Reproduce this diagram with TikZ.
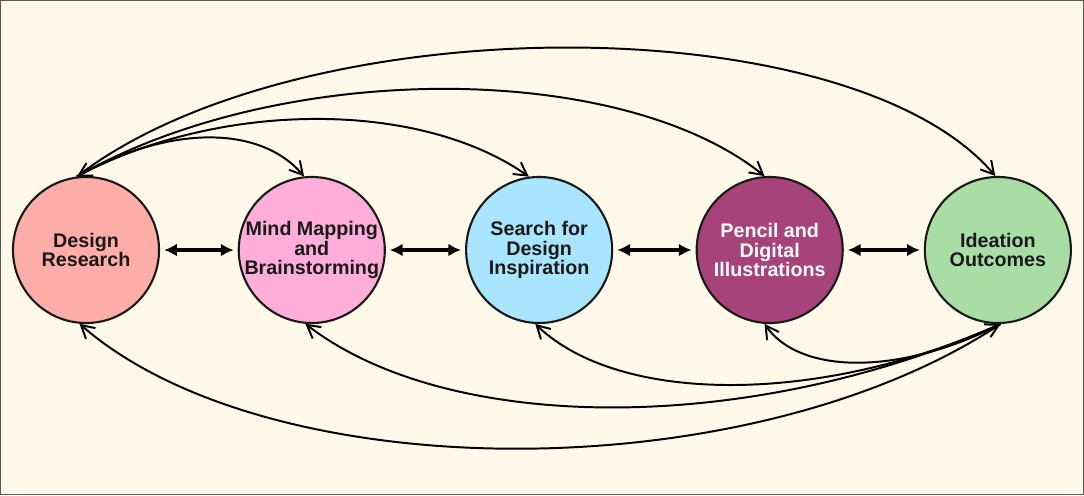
\documentclass[tikz,border=0pt]{standalone}
\usepackage{fontspec}
\setmainfont{Liberation Sans}
\usetikzlibrary{arrows.meta,positioning}
\definecolor{bgcream}{HTML}{FEF9E9}
\definecolor{framegray}{HTML}{5A5A55}
\definecolor{drpink}{HTML}{FFADA8}
\definecolor{mmpink}{HTML}{FFAED9}
\definecolor{sdblue}{HTML}{A9E5FF}
\definecolor{pdplum}{HTML}{A6437A}
\definecolor{iogreen}{HTML}{A8DDA6}
\tikzset{
  stage/.style={circle,draw=black!90,line width=1.5pt,minimum size=3.65cm,inner sep=0pt,
    align=center,font=\fontsize{14}{14}\selectfont\bfseries,text=black!90},
  link/.style={line width=1.4pt,-{Straight Barb[length=3.2mm,width=3.6mm]}},
  twolink/.style={line width=1.4pt,{Straight Barb[length=3.2mm,width=3.6mm]}-{Straight Barb[length=3.2mm,width=3.6mm]}},
  swap/.style={line width=2.2pt,{Latex[length=3.2mm,width=3.2mm]}-{Latex[length=3.2mm,width=3.2mm]},
    shorten <=1mm,shorten >=1mm},
}

\begin{document}
\begin{tikzpicture}[x=0.025cm,y=-0.025cm]
% Background and frame
\useasboundingbox (0,0) rectangle (1084,495);
\fill[bgcream] (0,0) rectangle (1084,495);
\draw[framegray,line width=1pt] (0.6,0.6) rectangle (1083.4,494.4);

% Stages
\node[stage,fill=drpink] (dr) at (86,250) {Design\\Research};
\node[stage,fill=mmpink,right=1.94cm of dr] (mm) {Mind Mapping\\and\\Brainstorming};
\node[stage,fill=sdblue,right=1.98cm of mm] (sd) {Search for\\Design\\Inspiration};
\node[stage,fill=pdplum,text=white!95!pink,right=2.06cm of sd] (pd) {Pencil and\\Digital\\Illustrations};
\node[stage,fill=iogreen,right=2cm of pd] (io) {Ideation\\Outcomes};

% Neighbour links
\draw[swap] (dr) -- (mm);
\draw[swap] (mm) -- (sd);
\draw[swap] (sd) -- (pd);
\draw[swap] (pd) -- (io);

% Research feeds every stage (top)
\draw[link] (dr.97) .. controls (300,5) and (850,5) .. (io.92);
\draw[link] (dr.97) .. controls (280,60) and (620,60) .. (pd.94);
\draw[link] (dr.97) .. controls (220,100) and (420,100) .. (sd.98);
\draw[twolink] (dr.97) .. controls (170,125) and (260,125) .. (mm.96);

% Outcomes feed back (bottom)
\draw[link] (io.-88) .. controls (750,490) and (270,490) .. (dr.-95);
\draw[link] (io.-88) .. controls (750,435) and (450,435) .. (mm.-95);
\draw[link] (io.-88) .. controls (820,405) and (620,405) .. (sd.-93);
\draw[twolink] (io.-88) .. controls (900,375) and (800,375) .. (pd.-94);

\end{tikzpicture}
\end{document}
